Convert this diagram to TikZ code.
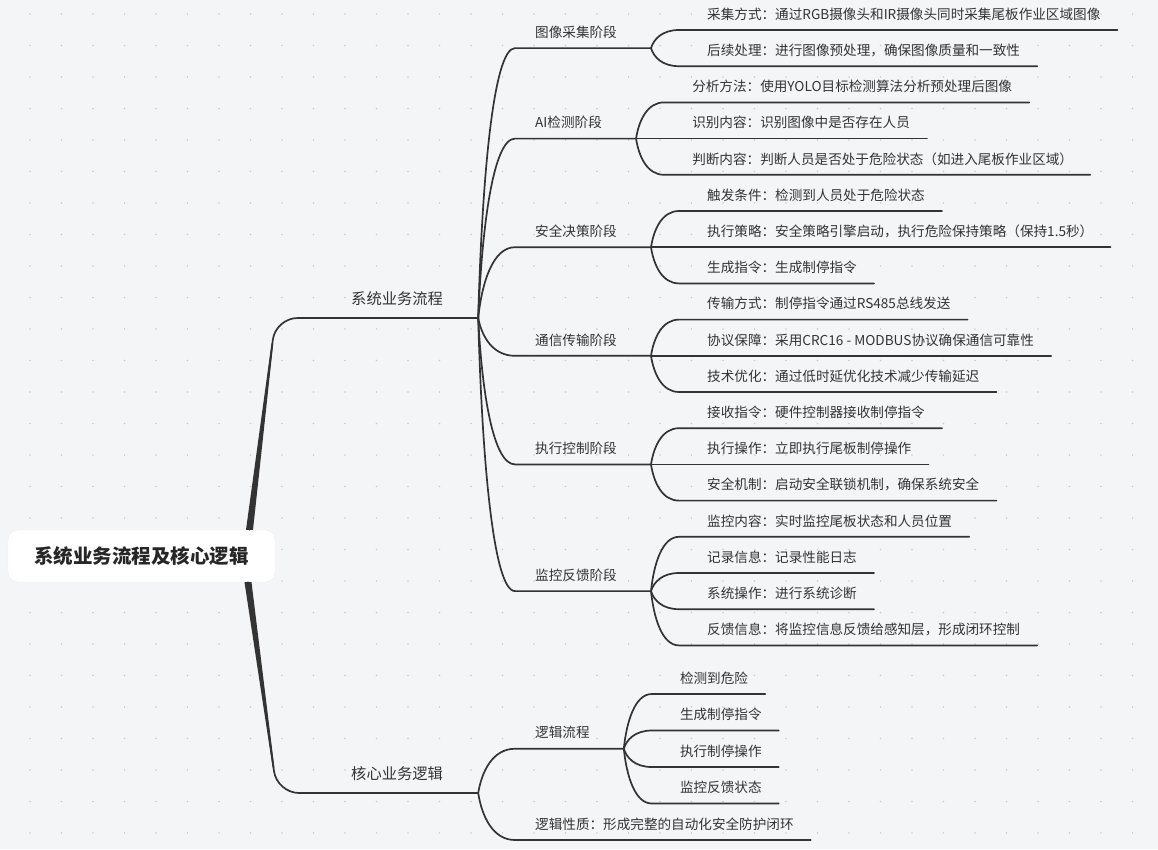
\documentclass[tikz,border=0pt]{standalone}
\usepackage{fontspec}
\setmainfont{Noto Sans CJK SC}
\usetikzlibrary{calc}

\definecolor{fondo}{HTML}{F4F5F7}
\definecolor{punto}{HTML}{C9CBCF}
\definecolor{linea}{HTML}{333333}
\definecolor{texto}{HTML}{333333}

\tikzset{
  raiz/.style={fill=white, draw=black!6, rounded corners=10pt, minimum width=267pt,
    minimum height=52pt, inner sep=0pt, text=black!85,
    font=\fontsize{19.5}{22}\selectfont\bfseries},
  tema/.style={anchor=south west, inner xsep=0pt, inner ysep=13.2pt, text depth=0pt,
    text=texto, font=\fontsize{15.3}{18}\selectfont},
  etapa/.style={anchor=south west, inner xsep=0pt, inner ysep=10.6pt, text depth=0pt,
    text=texto, font=\fontsize{13.6}{16}\selectfont},
  hoja/.style={etapa, font=\fontsize{13.6}{16}\selectfont},
  rama/.style={draw=linea, line width=1.7pt, line cap=round},
  curva/.style={to path={let \p1=(\tikztostart), \p2=(\tikztotarget) in
    .. controls ({\x1+0.1*(\x2-\x1)},{\y1+0.5*(\y2-\y1)})
       and ({\x1+0.4*(\x2-\x1)},\y2) .. (\tikztotarget)}},
}

\begin{document}
\begin{tikzpicture}[x=1pt, y=1pt]
  \useasboundingbox (0,0) rectangle (1158,-849);
  % Fondo con rejilla de puntos
  \fill[fondo] (0,0) rectangle (1158,-849);
  \foreach \i in {0,...,36}
    \foreach \j in {0,...,26}
      \fill[punto] ({30+31.5*\i},{-14-31.5*\j}) circle (0.9);

  % Nodo central
  \node[raiz] (raiz) at (141.5,-556) {系统业务流程及核心逻辑};

  % Temas principales
  \node[tema] (sis) at (351,-318) {系统业务流程};
  \node[tema] (nuc) at (351,-793) {核心业务逻辑};
  \coordinate (sis-f) at ([xshift=35pt]sis.south east);
  \coordinate (nuc-f) at ([xshift=35pt]nuc.south east);

  % Tronco: grueso junto a la raiz, fino al llegar al tema
  \coordinate (t1) at ([xshift=108pt]raiz.north);
  \coordinate (t2) at ([xshift=106.5pt]raiz.south);
  \coordinate (c1) at ($(sis.south -| t1)+(26,0)$);
  \coordinate (c2) at ($(nuc.south -| t2)+(29,0)$);
  \fill[linea] ([xshift=-3.5pt]t1) -- ([xshift=3.5pt]t1)
    -- ($(t1)!0.88!(c1)+(0.85,0)$) -- ($(t1)!0.88!(c1)+(-0.85,0)$) -- cycle;
  \fill[linea] ([xshift=-3.5pt]t2) -- ([xshift=3.5pt]t2)
    -- ($(t2)!0.88!(c2)+(0.85,0)$) -- ($(t2)!0.88!(c2)+(-0.85,0)$) -- cycle;
  \draw[rama, rounded corners=22pt] (t1) -- (c1) -- (sis-f);
  \draw[rama, rounded corners=22pt] (t2) -- (c2) -- (nuc-f);

  % Etapas (segundo nivel)
  \foreach \nm/\pa/\yy/\tx in {e1/sis/48.1/图像采集阶段, e2/sis/138.6/AI检测阶段,
      e3/sis/247.2/安全决策阶段, e4/sis/355.8/通信传输阶段,
      e5/sis/464.4/执行控制阶段, e6/sis/591.1/监控反馈阶段,
      lf/nuc/748.75/逻辑流程}{
    \node[etapa] (\nm) at (535,-\yy) {\tx};
    \coordinate (\nm-i) at ([xshift=-20pt]\nm.south west);
    \coordinate (\nm-f) at ([xshift=34pt]\nm.south east);
    \draw[rama] (\pa-f) to[curva] (\nm-i) -- (\nm-f);
  }
  % Hoja directa del segundo tema
  \node[hoja] (lp) at (535,-840) {逻辑性质：形成完整的自动化安全防护闭环};
  \coordinate (lp-i) at ([xshift=-20pt]lp.south west);
  \draw[rama] (nuc-f) to[curva] (lp-i) -- ([xshift=17pt]lp.south east);

  % Hojas (tercer nivel)
  \foreach \nm/\pa/\yy/\tx in {
      h1/e1/30.0/采集方式：通过RGB摄像头和IR摄像头同时采集尾板作业区域图像,
      h2/e1/66.2/后续处理：进行图像预处理，确保图像质量和一致性,
      h3/e2/102.4/分析方法：使用YOLO目标检测算法分析预处理后图像,
      h4/e2/138.6/识别内容：识别图像中是否存在人员,
      h5/e2/174.8/判断内容：判断人员是否处于危险状态（如进入尾板作业区域）,
      h6/e3/211.0/触发条件：检测到人员处于危险状态,
      h7/e3/247.2/执行策略：安全策略引擎启动，执行危险保持策略（保持1.5秒）,
      h8/e3/283.4/生成指令：生成制停指令,
      h9/e4/319.6/传输方式：制停指令通过RS485总线发送,
      h10/e4/355.8/协议保障：采用CRC16 - MODBUS协议确保通信可靠性,
      h11/e4/392.0/技术优化：通过低时延优化技术减少传输延迟,
      h12/e5/428.2/接收指令：硬件控制器接收制停指令,
      h13/e5/464.4/执行操作：立即执行尾板制停操作,
      h14/e5/500.6/安全机制：启动安全联锁机制，确保系统安全,
      h15/e6/536.8/监控内容：实时监控尾板状态和人员位置,
      h16/e6/573.0/记录信息：记录性能日志,
      h17/e6/609.2/系统操作：进行系统诊断,
      h18/e6/645.4/反馈信息：将监控信息反馈给感知层，形成闭环控制,
      k1/lf/694.0/检测到危险,
      k2/lf/730.5/生成制停指令,
      k3/lf/767.0/执行制停操作,
      k4/lf/803.5/监控反馈状态}{
    \node[hoja] (\nm) at ($(\pa-f |- 0,-\yy)+(56,0)$) {\tx};
    \coordinate (\nm-i) at ([xshift=-28pt]\nm.south west);
    \draw[rama] (\pa-f) to[curva] (\nm-i) -- ([xshift=17pt]\nm.south east);
  }
\end{tikzpicture}
\end{document}
